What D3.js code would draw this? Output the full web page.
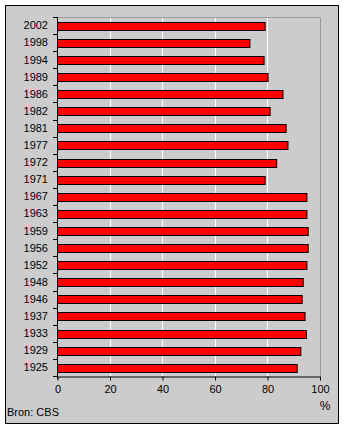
<!DOCTYPE html>
<html><head><meta charset="utf-8">
<script src="https://cdn.jsdelivr.net/npm/d3@7"></script>
<style>body{margin:0;background:#fff}svg{display:block}text{font-family:"Liberation Sans",Arial,sans-serif;font-size:11px;fill:#000}</style>
</head><body><svg id="c" width="345" height="431"></svg>
<script>
const years = ["2002","1998","1994","1989","1986","1982","1981","1977","1972","1971","1967","1963","1959","1956","1952","1948","1946","1937","1933","1929","1925"];
const turnout = [79.1,73.3,78.7,80.2,85.9,81.0,87.1,87.8,83.5,79.1,95.0,95.0,95.5,95.5,95.0,93.6,93.2,94.3,94.8,92.7,91.3];
const xTicks = [0,20,40,60,80,100];
const source = "Bron: CBS";
const unit = "%";

const svg = d3.select("#c");
svg.append("rect").attr("x",5.5).attr("y",5.5).attr("width",333).attr("height",418)
  .attr("fill","#cccccc").attr("stroke","#000").attr("stroke-width",1);

const pTop = 17, pBottom = 376;
const x = d3.scaleLinear().domain([0,100]).range([57,319.5]);
const y = d3.scaleBand().domain(years).range([pTop,pBottom]).paddingInner(0.56).paddingOuter(0.28);

// plot area border (gray top/right)
svg.append("path").attr("d",`M57,${pTop+0.5}H${Math.round(x(100))+0.5}V${pBottom}`).attr("fill","none").attr("stroke","#999").attr("stroke-width",1);

// gridlines
svg.append("g").selectAll("line").data(xTicks.filter(d=>d>0&&d<100)).join("line")
  .attr("x1",d=>Math.round(x(d))+0.5).attr("x2",d=>Math.round(x(d))+0.5)
  .attr("y1",pTop+1).attr("y2",pBottom).attr("stroke","#fff").attr("stroke-width",1);

// bars
svg.append("g").selectAll("rect").data(years).join("rect")
  .attr("x",x(0)+0.5).attr("y",(d)=>Math.round(y(d))+0.5)
  .attr("width",(d,i)=>x(turnout[i])-x(0)).attr("height",Math.round(y.bandwidth()))
  .attr("fill","#ff0000").attr("stroke","#000").attr("stroke-width",1);

// y axis
const yb = d3.scaleLinear().domain([0,years.length]).range([pTop,pBottom]);
const yg = svg.append("g");
yg.append("line").attr("x1",57.5).attr("x2",57.5).attr("y1",pTop).attr("y2",pBottom+3).attr("stroke","#000");
yg.selectAll("line.t").data(d3.range(years.length+1)).join("line").attr("class","t")
  .attr("x1",53).attr("x2",57).attr("y1",d=>Math.round(yb(d))+0.5).attr("y2",d=>Math.round(yb(d))+0.5).attr("stroke","#000");
yg.selectAll("text").data(years).join("text")
  .attr("x",48).attr("y",d=>y(d)+y.bandwidth()/2).attr("dy","0.35em").attr("text-anchor","end").text(d=>d);

// x axis
const xg = svg.append("g").attr("transform",`translate(0.5,${pBottom+0.5})`);
xg.call(d3.axisBottom(x).tickValues(xTicks).tickSize(4).tickSizeOuter(0).tickPadding(5));
xg.select(".domain").attr("stroke","#000");
xg.selectAll(".tick line").attr("stroke","#000");
xg.selectAll(".tick text").attr("font-size",12).attr("font-family","Liberation Sans, Arial, sans-serif");

svg.append("text").attr("x",325).attr("y",410).attr("text-anchor","middle").style("font-size","12px").text(unit);
svg.append("text").attr("x",7).attr("y",416).style("font-size","11px").text(source);
</script></body></html>
